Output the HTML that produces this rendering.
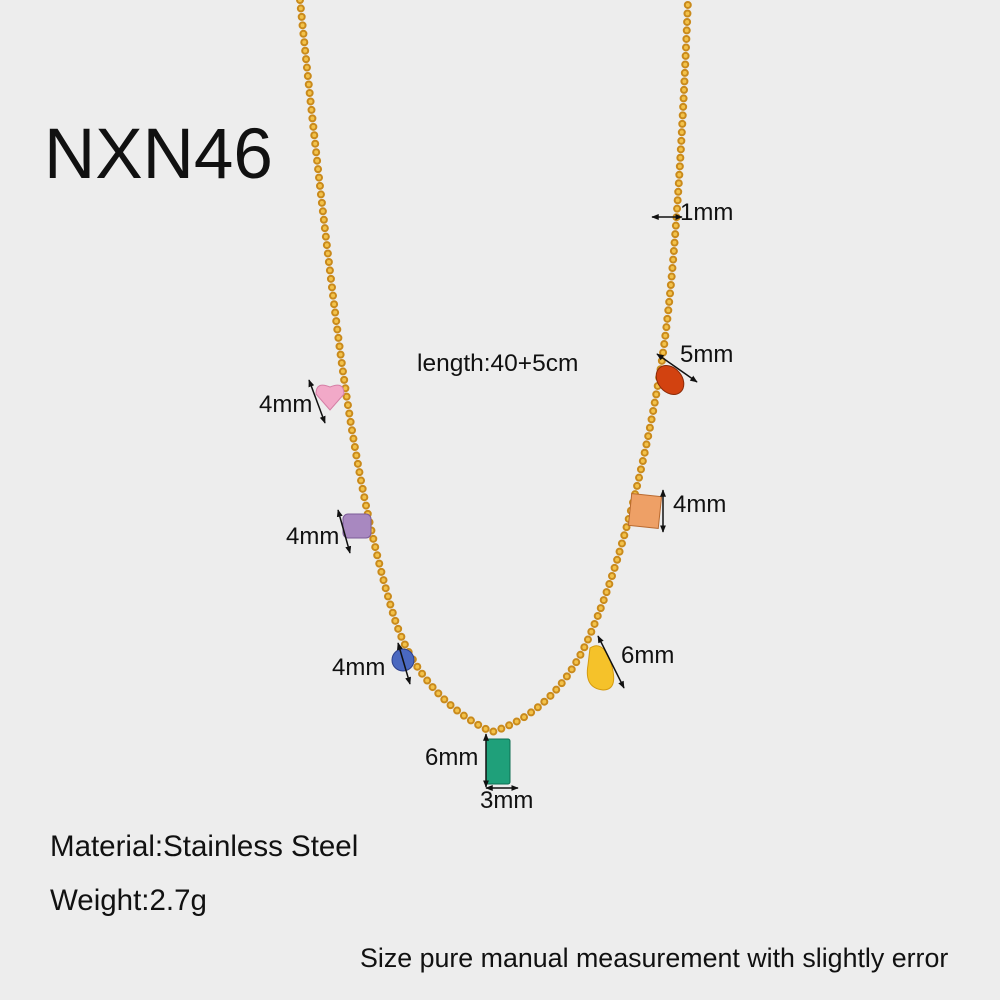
<!DOCTYPE html>
<html><head><meta charset="utf-8"><style>
html,body{margin:0;padding:0;width:1000px;height:1000px;overflow:hidden;background:#ededed}
svg{display:block}
text{font-family:"Liberation Sans",sans-serif;fill:#111}
</style></head><body>
<svg width="1000" height="1000" viewBox="0 0 1000 1000">
<defs>
<marker id="a" viewBox="0 0 10 10" refX="9" refY="5" markerWidth="5" markerHeight="5" orient="auto-start-reverse"><path d="M0,1 L10,5 L0,9 z" fill="#111"/></marker>
</defs>
<rect width="1000" height="1000" fill="#ededed"/>
<path d="M300,0 C312,120 328,260 340,350 C352,440 370,540 395,620 C415,680 455,715 492,732 C530,720 568,690 592,630 C622,560 648,450 662,360 C674,280 682,150 688,0" fill="none" stroke="#c98a1c" stroke-width="8" stroke-linecap="round" stroke-dasharray="0 8.5"/>
<path d="M300,0 C312,120 328,260 340,350 C352,440 370,540 395,620 C415,680 455,715 492,732 C530,720 568,690 592,630 C622,560 648,450 662,360 C674,280 682,150 688,0" fill="none" stroke="#f3c24a" stroke-width="4" stroke-linecap="round" stroke-dasharray="0 8.5"/>
<path d="M330,410 L316,394 Q316,381 330,387 Q344,381 344,394 Z" fill="#f2a9c8" stroke="#d57fa6"/>
<rect x="343" y="514" width="28" height="24" rx="5" fill="#a888c0" stroke="#7c5c98"/>
<circle cx="403" cy="660" r="11" fill="#4a68c0" stroke="#2c3f8a"/>
<rect x="486" y="739" width="24" height="45" rx="2" fill="#1fa07a" stroke="#0e6e52"/>
<path d="M590,648 Q602,640 610,660 Q620,690 603,690 Q584,688 588,665 Z" fill="#f5c22a" stroke="#d49a10"/>
<rect x="630" y="495" width="30" height="32" fill="#eea066" stroke="#b96a30" transform="rotate(6 645 511)"/>
<ellipse cx="670" cy="380" rx="12" ry="16" transform="rotate(-40 670 380)" fill="#d24210" stroke="#8a2a08"/>
<g stroke="#111" stroke-width="1.5" fill="none">
<line x1="652" y1="217" x2="682" y2="217" marker-start="url(#a)" marker-end="url(#a)"/>
<line x1="657" y1="354" x2="697" y2="382" marker-start="url(#a)" marker-end="url(#a)"/>
<line x1="663" y1="490" x2="663" y2="532" marker-start="url(#a)" marker-end="url(#a)"/>
<line x1="598" y1="636" x2="624" y2="688" marker-start="url(#a)" marker-end="url(#a)"/>
<line x1="486" y1="734" x2="486" y2="787" marker-start="url(#a)" marker-end="url(#a)"/>
<line x1="486" y1="788" x2="518" y2="788" marker-start="url(#a)" marker-end="url(#a)"/>
<line x1="398" y1="643" x2="410" y2="684" marker-start="url(#a)" marker-end="url(#a)"/>
<line x1="338" y1="510" x2="350" y2="553" marker-start="url(#a)" marker-end="url(#a)"/>
<line x1="309" y1="380" x2="325" y2="423" marker-start="url(#a)" marker-end="url(#a)"/>
</g>
<text x="44" y="178" font-size="71">NXN46</text>
<text x="680" y="220" font-size="24">1mm</text>
<text x="680" y="362" font-size="24">5mm</text>
<text x="417" y="371" font-size="24.5">length:40+5cm</text>
<text x="673" y="512" font-size="24">4mm</text>
<text x="621" y="663" font-size="24">6mm</text>
<text x="259" y="412" font-size="24">4mm</text>
<text x="286" y="544" font-size="24">4mm</text>
<text x="332" y="675" font-size="24">4mm</text>
<text x="425" y="765" font-size="24">6mm</text>
<text x="480" y="808" font-size="24">3mm</text>
<text x="50" y="856" font-size="29.5">Material:Stainless Steel</text>
<text x="50" y="910" font-size="29.5">Weight:2.7g</text>
<text x="360" y="967" font-size="26.8">Size pure manual measurement with slightly error</text>
</svg>
</body></html>
